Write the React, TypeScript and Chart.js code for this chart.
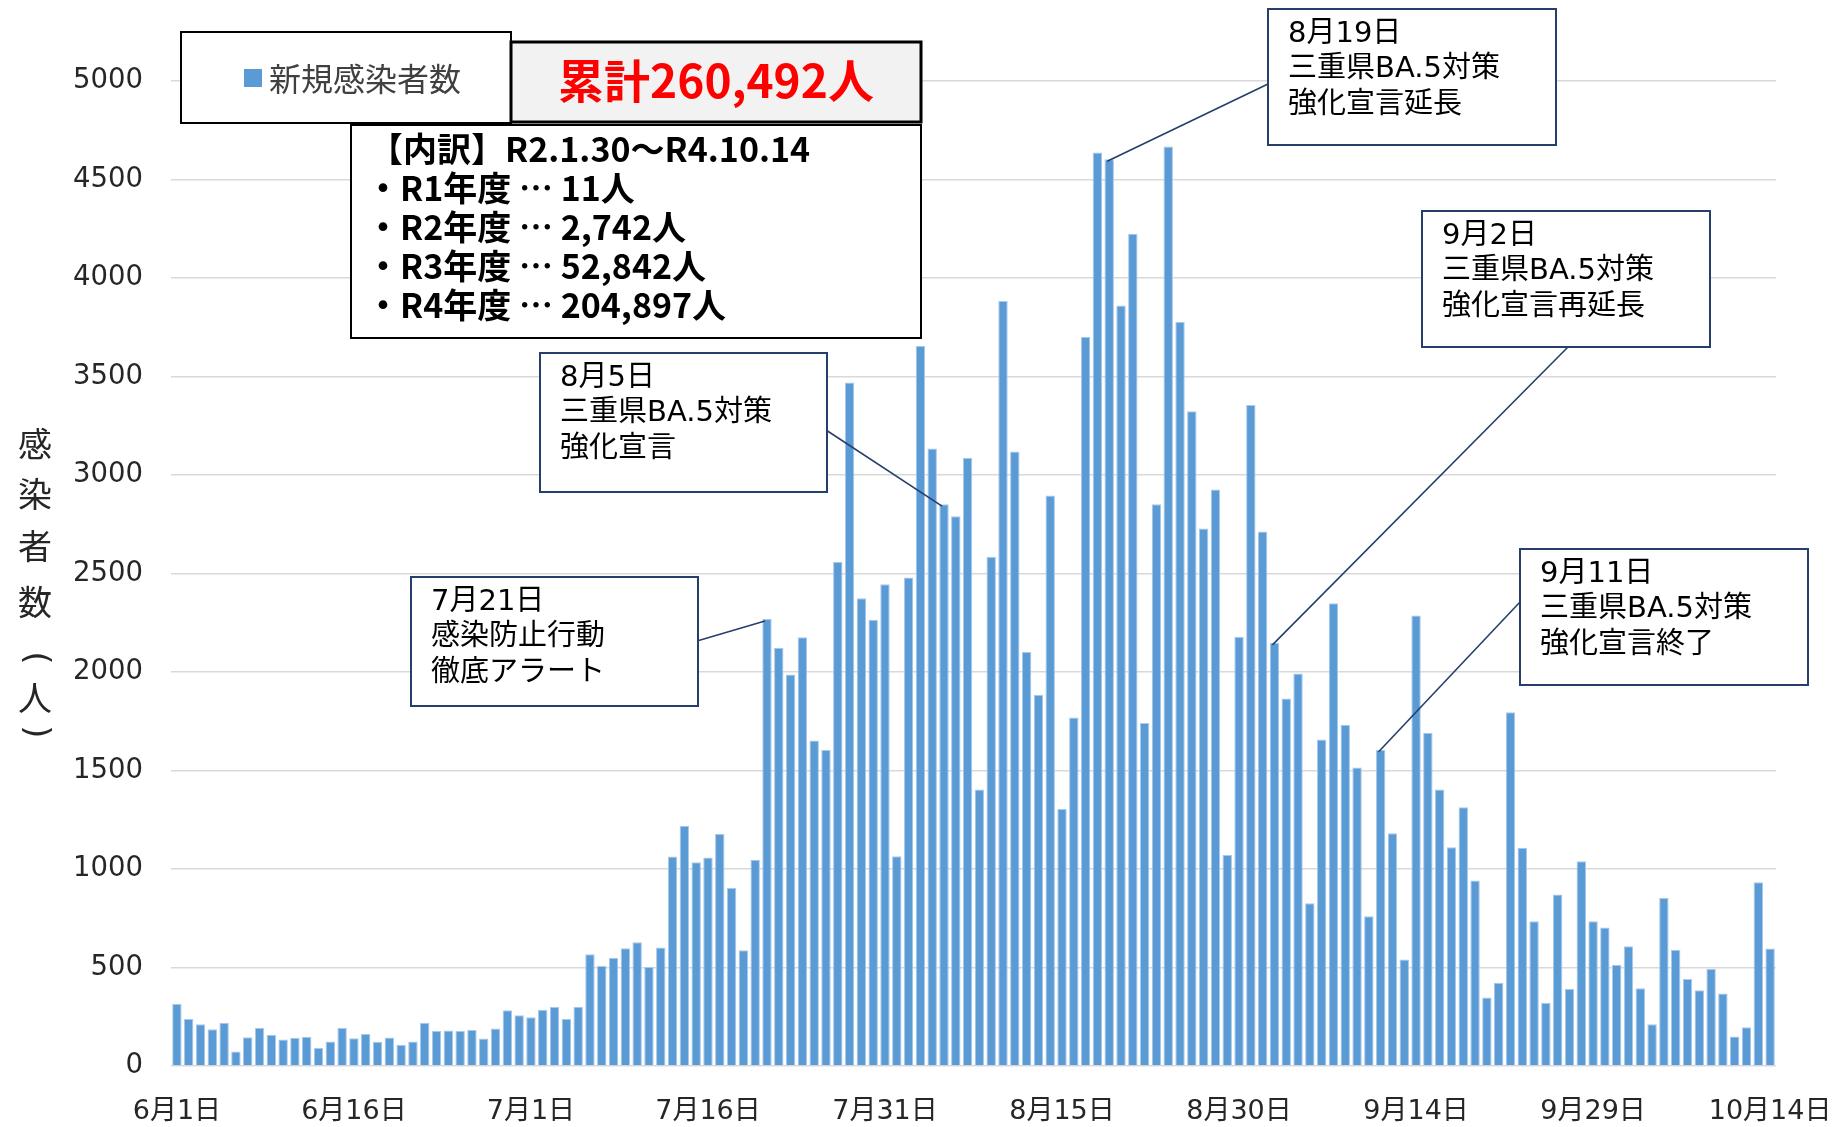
import React, { useEffect, useRef } from "react";
import { Chart, registerables } from "chart.js";

Chart.register(...registerables);

// ---- categories (dates) ----
const months = [6, 7, 8, 9, 10];
const daysInMonth = [30, 31, 31, 30, 14];
const categories: string[] = [];
months.forEach((m, i) => {
  for (let d = 1; d <= daysInMonth[i]; d++) categories.push(`${m}月${d}日`);
});

// ---- x tick labels shown ----
const xTickLabels = [
  "6月1日", "6月16日", "7月1日", "7月16日", "7月31日",
  "8月15日", "8月30日", "9月14日", "9月29日", "10月14日",
];

// ---- y ticks ----
const yMin = 0;
const yMax = 5000;
const yStep = 500;

// ---- series: daily new cases ----
const juneCases = [
  315, 239, 212, 187, 220, 74, 146, 194, 158, 135,
  143, 148, 91, 125, 194, 141, 163, 123, 145, 108,
  125, 220, 178, 180, 178, 183, 140, 190, 283, 258,
];
const julyCases = [
  247, 286, 300, 239, 301, 567, 508, 550, 598, 628,
  502, 601, 1064, 1219, 1034, 1059, 1178, 904, 588, 1047,
  2269, 2123, 1987, 2177, 1652, 1604, 2558, 3470, 2375, 2265,
  2445,
];
const augustCases = [
  1065, 2480, 3655, 3135, 2852, 2790, 3088, 1403, 2585, 3883,
  3119, 2101, 1884, 2896, 1304, 1769, 3700, 4637, 4603, 3861,
  4224, 1741, 2852, 4668, 3777, 3324, 2728, 2927, 1071, 2179,
  3355,
];
const septemberCases = [
  2713, 2148, 1865, 1993, 826, 1657, 2349, 1732, 1515, 760,
  1605, 1182, 540, 2287, 1691, 1403, 1111, 1313, 942, 348,
  422, 1796, 1108, 735, 321, 871, 391, 1039, 735, 703,
];
const octoberCases = [
  514, 608, 395, 212, 853, 590, 442, 384, 493, 368,
  150, 197, 933, 596,
];
const newCases = [
  ...juneCases, ...julyCases, ...augustCases, ...septemberCases, ...octoberCases,
];

// ---- texts ----
const seriesLabel = "新規感染者数";
const totalLabel = "累計260,492人";
const breakdownLines = [
  "【内訳】R2.1.30～R4.10.14",
  "・R1年度 … 11人",
  "・R2年度 … 2,742人",
  "・R3年度 … 52,842人",
  "・R4年度 … 204,897人",
];
const yTitleChars = ["感", "染", "者", "数", "（", "人", "）"];

const eventDates = ["7月21日", "8月5日", "8月19日", "9月2日", "9月11日"];
const eventTexts = [
  ["感染防止行動", "徹底アラート"],
  ["三重県BA.5対策", "強化宣言"],
  ["三重県BA.5対策", "強化宣言延長"],
  ["三重県BA.5対策", "強化宣言再延長"],
  ["三重県BA.5対策", "強化宣言終了"],
];

// ---- layout (pixel) for the call-out boxes ----
const eventBoxes = [
  { x: 411, y: 577, w: 287, h: 129, sx: 697, sy: 641 },
  { x: 540, y: 353, w: 287, h: 139, sx: 826, sy: 430 },
  { x: 1268, y: 9, w: 288, h: 136, sx: 1268, sy: 84 },
  { x: 1422, y: 211, w: 288, h: 136, sx: 1568, sy: 347 },
  { x: 1520, y: 549, w: 288, h: 136, sx: 1520, sy: 602 },
];

const BAR_COLOR = "#5b9bd5";
const NAVY = "#263f6a";
const LATIN_CJK = '"DejaVu Sans", "Noto Sans CJK JP", sans-serif';
const CJK = '"Noto Sans CJK JP", sans-serif';

const overlayPlugin = {
  id: "overlayPlugin",
  afterDraw(chart: any) {
    const ctx: CanvasRenderingContext2D = chart.ctx;
    const xs = chart.scales.x;
    const ys = chart.scales.y;
    ctx.save();

    // y-axis title (stacked, upright)
    const titleY = [444, 494, 546, 602, 658, 698, 732];
    ctx.fillStyle = "#262626";
    ctx.font = `34px ${CJK}`;
    ctx.textAlign = "center";
    ctx.textBaseline = "middle";
    yTitleChars.forEach((ch, i) => {
      if (ch === "（" || ch === "）") {
        ctx.save();
        ctx.translate(35, titleY[i]);
        ctx.rotate(Math.PI / 2);
        ctx.font = `34px ${LATIN_CJK}`;
        ctx.fillText(ch === "（" ? "(" : ")", 0, 0);
        ctx.restore();
      } else {
        ctx.fillText(ch, 35, titleY[i]);
      }
    });

    // legend box
    ctx.fillStyle = "#ffffff";
    ctx.fillRect(181, 32, 330, 91);
    ctx.strokeStyle = "#000000";
    ctx.lineWidth = 2;
    ctx.strokeRect(181, 32, 330, 91);
    ctx.fillStyle = BAR_COLOR;
    ctx.fillRect(244, 69, 18, 18);
    ctx.fillStyle = "#404040";
    ctx.font = `32px ${CJK}`;
    ctx.textAlign = "left";
    ctx.fillText(seriesLabel, 269, 79);

    // total box
    ctx.fillStyle = "#f2f2f2";
    ctx.fillRect(511, 42, 410, 80);
    ctx.lineWidth = 3;
    ctx.strokeStyle = "#000000";
    ctx.strokeRect(511, 42, 410, 80);
    ctx.fillStyle = "#ff0000";
    ctx.font = `bold 46px ${CJK}`;
    ctx.textAlign = "center";
    ctx.fillText(totalLabel, 716, 81);

    // breakdown box
    ctx.fillStyle = "#ffffff";
    ctx.fillRect(351, 125, 570, 213);
    ctx.lineWidth = 2;
    ctx.strokeStyle = "#000000";
    ctx.strokeRect(351, 125, 570, 213);
    ctx.fillStyle = "#000000";
    ctx.font = `bold 34px ${CJK}`;
    ctx.textAlign = "left";
    breakdownLines.forEach((t, i) => {
      ctx.fillText(t, i === 0 ? 369 : 366, 149 + i * 38.9);
    });

    // event call-outs
    eventDates.forEach((d, i) => {
      const idx = categories.indexOf(d);
      const px = xs.getPixelForValue(idx);
      const py = ys.getPixelForValue(newCases[idx]);
      const b = eventBoxes[i];
      ctx.strokeStyle = NAVY;
      ctx.lineWidth = 1.6;
      ctx.beginPath();
      ctx.moveTo(b.sx, b.sy);
      ctx.lineTo(px - 2, py + 2);
      ctx.stroke();
      ctx.fillStyle = "#ffffff";
      ctx.fillRect(b.x, b.y, b.w, b.h);
      ctx.lineWidth = 2;
      ctx.strokeRect(b.x, b.y, b.w, b.h);
      ctx.fillStyle = "#000000";
      ctx.font = `29px ${LATIN_CJK}`;
      ctx.textAlign = "left";
      ctx.textBaseline = "middle";
      [d, ...eventTexts[i]].forEach((t, j) => {
        ctx.fillText(t, b.x + 20, b.y + 25 + j * 35.5);
      });
    });

    ctx.restore();
  },
};

export default function App() {
  const canvasRef = useRef<HTMLCanvasElement | null>(null);

  useEffect(() => {
    if (!canvasRef.current) return;
    const chart = new Chart(canvasRef.current, {
      type: "bar",
      data: {
        labels: categories,
        datasets: [
          {
            label: seriesLabel,
            data: newCases,
            backgroundColor: BAR_COLOR,
            borderColor: "#a9c9eb",
            borderWidth: 1,
            barPercentage: 0.8,
            categoryPercentage: 1.0,
          },
        ],
      },
      options: {
        animation: false,
        responsive: false,
        devicePixelRatio: 1,
        layout: { padding: { left: 0, right: 57, top: 81, bottom: 0 } },
        plugins: {
          legend: { display: false },
          tooltip: { enabled: false },
          title: { display: false },
        },
        scales: {
          x: {
            grid: { display: false, drawTicks: false },
            border: { display: false },
            ticks: {
              autoSkip: false,
              maxRotation: 0,
              minRotation: 0,
              padding: 30,
              color: "#262626",
              font: { family: LATIN_CJK, size: 27 },
              callback: (_v: any, idx: number) =>
                xTickLabels.includes(categories[idx]) ? categories[idx] : "",
            },
            afterFit: (s: any) => {
              s.height = 61;
              s.paddingLeft = 0;
              s.paddingRight = 0;
            },
          },
          y: {
            min: yMin,
            max: yMax,
            grid: { color: "#d9d9d9", lineWidth: 1.5, drawTicks: false },
            border: { display: false },
            ticks: {
              stepSize: yStep,
              padding: 28,
              color: "#262626",
              font: { family: LATIN_CJK, size: 27.5 },
              callback: (v: any) => `${v}`,
            },
            afterFit: (s: any) => {
              s.width = 171;
              s.paddingTop = 0;
              s.paddingBottom = 0;
            },
          },
        },
      },
      plugins: [overlayPlugin],
    });
    return () => chart.destroy();
  }, []);

  return (
    <div style={{ position: "absolute", left: 0, top: 0, width: 1833, height: 1127, background: "#fff" }}>
      <canvas ref={canvasRef} width={1833} height={1127} style={{ display: "block" }} />
    </div>
  );
}
